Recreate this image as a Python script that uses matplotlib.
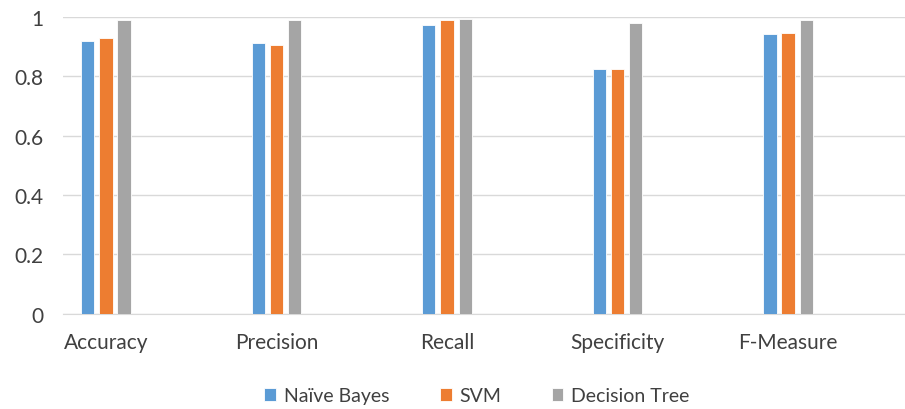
import matplotlib
matplotlib.use('Agg')
import matplotlib.pyplot as plt
import numpy as np

plt.rcParams['font.family'] = ['Lato', 'DejaVu Sans']

# metrics and scores
categories = ['Accuracy', 'Precision', 'Recall', 'Specificity', 'F-Measure']
series = ['Naïve Bayes', 'SVM', 'Decision Tree']
naive_bayes = [0.919, 0.911, 0.972, 0.824, 0.942]
svm = [0.928, 0.907, 0.989, 0.824, 0.946]
decision_tree = [0.989, 0.989, 0.992, 0.980, 0.989]
colors = ['#5B9BD5', '#ED7D31', '#A5A5A5']

fig = plt.figure(figsize=(9.05, 4.10), dpi=100)
ax = fig.add_axes([63/905, 1-314.7/410, 1-63/905, (314.7-18)/410])

x = np.arange(len(categories))
w = 0.079
step = 0.107
for i, (vals, name) in enumerate(zip([naive_bayes, svm, decision_tree], series)):
    ax.bar(x + (i-1)*step, vals, width=w, color=colors[i], label=name,
           edgecolor='white', linewidth=0.6, zorder=3)

ax.set_xlim(-0.252, 4.686)
ax.set_ylim(0, 1)
ax.set_yticks(np.arange(0, 1.01, 0.2))
ax.set_yticklabels(['0', '0.2', '0.4', '0.6', '0.8', '1'])
ax.set_xticks(x)
ax.set_xticklabels(categories)
ax.grid(axis='y', color='#D9D9D9', linewidth=1, zorder=0)
for s in ['top', 'right', 'left']:
    ax.spines[s].set_visible(False)
ax.spines['bottom'].set_color('#D9D9D9')
ax.tick_params(axis='both', length=0, labelsize=15, colors='#404040')
ax.tick_params(axis='x', pad=13)
ax.tick_params(axis='y', pad=14)

fig.legend(loc='center', bbox_to_anchor=(0.527, 0.032), ncol=3, frameon=False,
           fontsize=14, handlelength=0.6, handleheight=0.6, columnspacing=2.6,
           handletextpad=0.4, labelcolor='#404040')

fig.savefig('out.png', dpi=100)
